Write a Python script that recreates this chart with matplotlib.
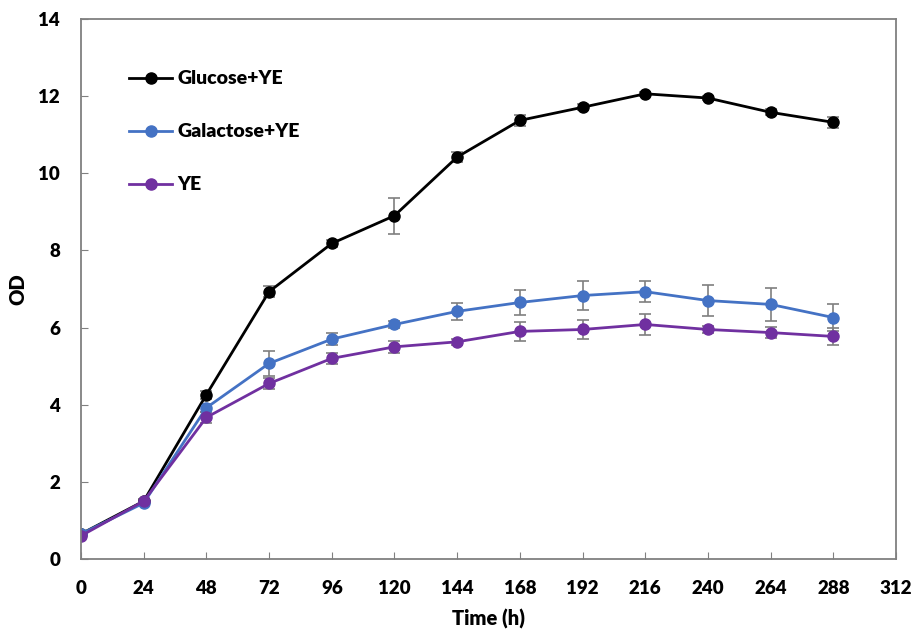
import matplotlib
matplotlib.use("Agg")
from matplotlib import pyplot as plt

plt.rcParams['font.family'] = ['Lato', 'DejaVu Sans']

time_h = [0, 24, 48, 72, 96, 120, 144, 168, 192, 216, 240, 264, 288]
glucose = [0.65, 1.5, 4.26, 6.93, 8.18, 8.9, 10.42, 11.37, 11.71, 12.06, 11.95, 11.58, 11.32]
glucose_err = [0.05, 0.05, 0.1, 0.15, 0.1, 0.47, 0.12, 0.15, 0.08, 0.05, 0.05, 0.08, 0.15]
galactose = [0.65, 1.45, 3.92, 5.07, 5.7, 6.08, 6.42, 6.65, 6.83, 6.93, 6.7, 6.6, 6.26]
galactose_err = [0.05, 0.05, 0.1, 0.33, 0.15, 0.1, 0.22, 0.33, 0.37, 0.28, 0.4, 0.42, 0.35]
ye = [0.6, 1.5, 3.67, 4.55, 5.2, 5.5, 5.63, 5.9, 5.95, 6.08, 5.95, 5.87, 5.77]
ye_err = [0.05, 0.05, 0.15, 0.15, 0.15, 0.15, 0.08, 0.25, 0.25, 0.28, 0.08, 0.15, 0.22]

series = [
    ("Glucose+YE", glucose, glucose_err, "#000000"),
    ("Galactose+YE", galactose, galactose_err, "#4472C4"),
    ("YE", ye, ye_err, "#7030A0"),
]

fig = plt.figure(figsize=(9.16, 6.32), dpi=100)
ax = fig.add_axes([0.0884, 0.1155, 0.8898, 0.8545])

for name, vals, err, col in series:
    ax.errorbar(time_h, vals, yerr=err, color=col, ecolor="#7f7f7f", elinewidth=1.2,
                capsize=4, capthick=1.2, lw=2, marker="o", ms=8, label=name)

ax.set_xlim(0, 312)
ax.set_ylim(0, 14)
ax.set_xticks(range(0, 313, 24))
ax.set_yticks(range(0, 15, 2))
for s in ax.spines.values():
    s.set_color("#808080")
    s.set_linewidth(1.3)
ax.tick_params(direction="in", length=5, color="#808080", labelsize=13.5, pad=15)
for lab in ax.get_xticklabels() + ax.get_yticklabels():
    lab.set_fontweight("heavy")

ax.set_xlabel("Time (h)", fontsize=14.5, fontweight="heavy", labelpad=9)
ax.set_ylabel("OD", fontsize=14.5, fontweight="heavy", labelpad=8)

handles, labels = ax.get_legend_handles_labels()
handles = [h[0] for h in handles]
leg = ax.legend(handles, labels, loc="upper left", bbox_to_anchor=(0.038, 0.937), frameon=False,
                prop={"size": 14, "weight": "heavy"}, labelspacing=1.85, handlelength=2.2,
                handletextpad=0.25)

fig.savefig("out.png", dpi=100)
